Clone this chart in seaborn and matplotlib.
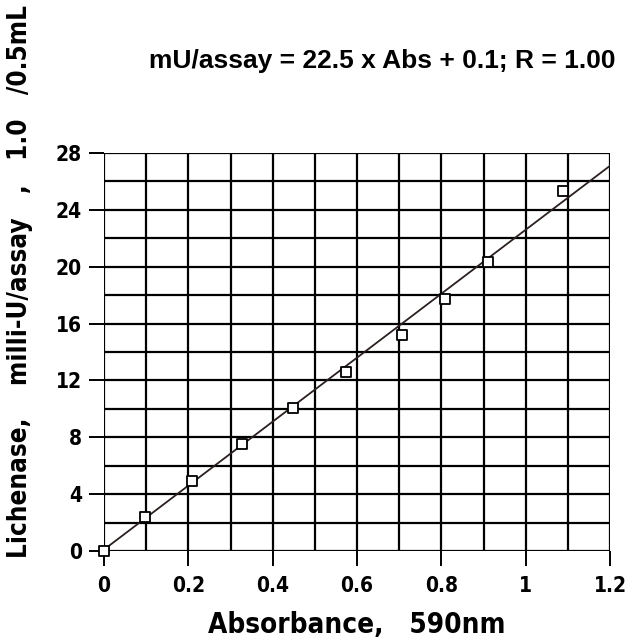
import matplotlib
matplotlib.use("Agg")
import matplotlib.pyplot as plt
import seaborn as sns
import numpy as np
import pandas as pd

# data
absorbance = [0.0, 0.097, 0.209, 0.327, 0.448, 0.574, 0.707, 0.809, 0.911, 1.088]
activity = [0.0, 2.4, 4.95, 7.55, 10.05, 12.6, 15.2, 17.75, 20.35, 25.35]
slope = 22.5
intercept = 0.1
fit_x = [0.0, 1.2]
x_ticks = [0, 0.2, 0.4, 0.6, 0.8, 1, 1.2]
x_tick_labels = ["0", "0.2", "0.4", "0.6", "0.8", "1", "1.2"]
y_ticks = [0, 4, 8, 12, 16, 20, 24, 28]
title = "mU/assay = 22.5 x Abs + 0.1; R = 1.00"
xlabel = "Absorbance,   590nm"
ylabel = "Lichenase,    milli-U/assay   ,   1.0   /0.5mL"

sns.set_style("white")
plt.rcParams["font.family"] = ["DejaVu Sans"]
plt.rcParams["text.color"] = "black"
plt.rcParams["xtick.color"] = "black"
plt.rcParams["ytick.color"] = "black"
plt.rcParams["axes.labelcolor"] = "black"

fig = plt.figure(figsize=(6.28, 6.41), dpi=100)
ax = fig.add_axes([104/628, 1-551/641, (610-104)/628, (551-153)/641])

df = pd.DataFrame({"x": absorbance, "y": activity})
fit_df = pd.DataFrame({"x": fit_x, "y": [slope*v + intercept for v in fit_x]})

# grid
for gx in np.arange(0, 1.21, 0.1):
    ax.axvline(gx, color="black", lw=1.6, zorder=1)
for gy in np.arange(0, 28.1, 2):
    ax.axhline(gy, color="black", lw=1.6, zorder=1)

sns.lineplot(data=fit_df, x="x", y="y", ax=ax, color="#2a2020", lw=1.3, zorder=2)
sns.scatterplot(data=df, x="x", y="y", ax=ax, marker="s", s=55, facecolor="white",
                edgecolor="black", linewidth=1.3, zorder=3, clip_on=False)

ax.set_xlim(0, 1.2)
ax.set_ylim(0, 28)
for s in ax.spines.values():
    s.set_visible(False)

ax.set_xticks(x_ticks)
ax.set_xticklabels(x_tick_labels)
ax.set_yticks(y_ticks)
ax.tick_params(axis="both", direction="out", length=11, width=1.4, colors="black",
               labelsize=15, left=True, bottom=True)
ax.tick_params(axis="x", pad=7)
ax.tick_params(axis="y", pad=5)
for lab in ax.get_xticklabels() + ax.get_yticklabels():
    lab.set_fontweight("heavy")
    lab.set_fontstretch("condensed")

ax.set_xlabel("")
ax.set_ylabel("")
fig.text(357/628, 1-633/641, xlabel, fontsize=20, fontweight="heavy", stretch="condensed",
         ha="center", va="baseline", color="black")
fig.text(20/628, 1-281/641, ylabel, rotation=90, fontsize=18.6, fontweight="heavy",
         stretch="condensed", ha="center", va="center", color="black")
fig.text(382/628, 1-68/641, title, fontsize=19, fontweight="bold",
         family="Liberation Sans", ha="center", va="baseline", color="black")

fig.savefig("out.png", dpi=100)
